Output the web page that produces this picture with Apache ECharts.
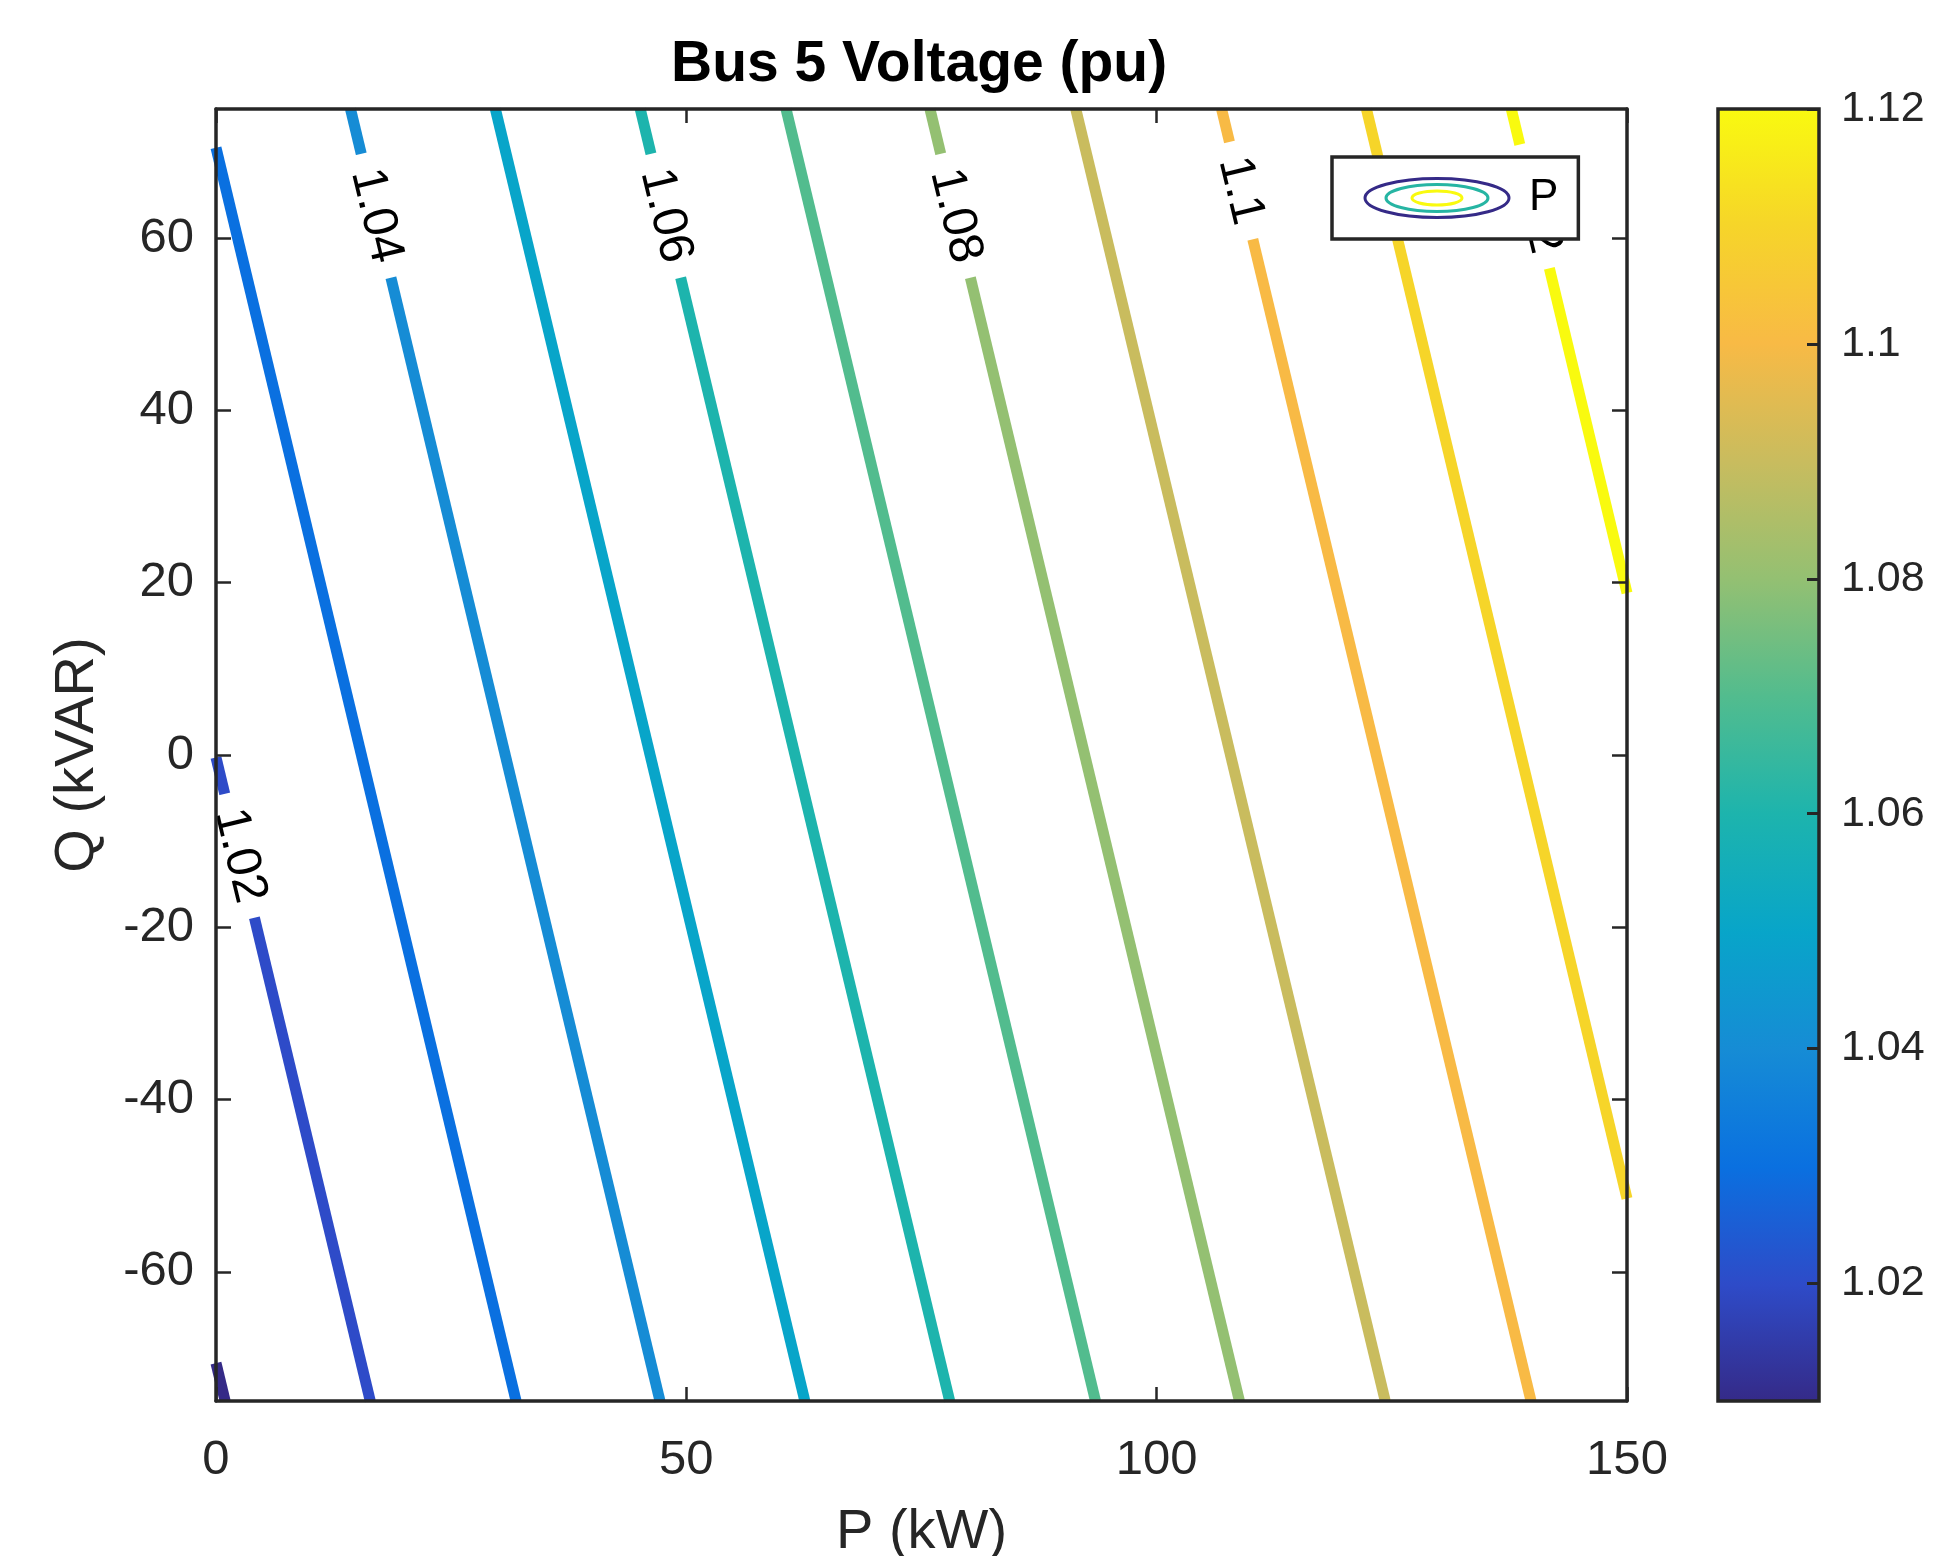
<!DOCTYPE html>
<html>
<head>
<meta charset="utf-8">
<script src="https://cdn.jsdelivr.net/npm/echarts@6/dist/echarts.min.js"></script>
<style>
  html, body { margin: 0; padding: 0; background: #ffffff; }
  #chart { width: 1934px; height: 1556px; }
</style>
</head>
<body>
<div id="chart"></div>
<script>
// Bus 5 voltage (pu) contour lines over the P-Q injection plane.
// Each contour is a straight segment; endpoints lie on the plot boundary.
const contourLevels = [1.01, 1.02, 1.03, 1.04, 1.05, 1.06, 1.07, 1.08, 1.09, 1.10, 1.11, 1.12];
const lineStartP = [0.97, 16.4, 31.9, 47.2, 62.6, 78.0, 93.5, 108.8, 124.3, 139.8, 150, 150];
const lineStartQ = [-75, -75, -75, -75, -75, -75, -75, -75, -75, -75, -51.5, 18.8];
const lineEndP   = [0, 0, 0, 14.3, 29.7, 45.1, 60.6, 75.9, 91.4, 106.9, 122.3, 137.7];
const lineEndQ   = [-70.6, -0.3, 70.5, 75, 75, 75, 75, 75, 75, 75, 75, 75];

// Inline contour labels (level, and the point on its line where it sits)
const labelLevels = [1.02, 1.04, 1.06, 1.08, 1.1, 1.12];
const labelP = [2.5, 17.0, 47.8, 78.6, 108.9, 140.2];
const labelQ = [-11.7, 62.6, 62.6, 62.6, 65.5, 63.7];

// Axis ticks
const xTicks = [0, 50, 100, 150];
const yTicks = [-60, -40, -20, 0, 20, 40, 60];
const colorbarTicks = [1.02, 1.04, 1.06, 1.08, 1.1, 1.12];
const colorRange = [1.01, 1.12];

// parula-like colormap, evenly spaced stops from low to high
const parulaStops = ['#352a87', '#2e4bc8', '#0a70e0', '#168cd5', '#08a5c9', '#1db4ad',
                     '#52bc8e', '#94c072', '#c9bc5e', '#f8ba45', '#f6d529', '#f9fa0f'];

function hexToRgb(h) {
  return [parseInt(h.slice(1, 3), 16), parseInt(h.slice(3, 5), 16), parseInt(h.slice(5, 7), 16)];
}
function colormap(v) {
  let t = (v - colorRange[0]) / (colorRange[1] - colorRange[0]);
  t = Math.max(0, Math.min(1, t));
  const pos = t * (parulaStops.length - 1);
  const i = Math.min(Math.floor(pos), parulaStops.length - 2);
  const f = pos - i;
  const a = hexToRgb(parulaStops[i]), b = hexToRgb(parulaStops[i + 1]);
  const c = a.map((x, k) => Math.round(x + (b[k] - x) * f));
  return 'rgb(' + c.join(',') + ')';
}

const FONT = '"Liberation Sans", Arial, Helvetica, sans-serif';
const AXIS_COLOR = '#262626';
const AXIS_W = 3.5;

const legendIcon = 'image://data:image/svg+xml;charset=utf-8,' + encodeURIComponent(
  "<svg xmlns='http://www.w3.org/2000/svg' width='150' height='44' viewBox='0 0 150 44'>" +
  "<ellipse cx='75' cy='22' rx='72' ry='19.5' fill='none' stroke='" + colormap(1.01) + "' stroke-width='3'/>" +
  "<ellipse cx='75' cy='22' rx='51' ry='13.5' fill='none' stroke='#26b5a3' stroke-width='3'/>" +
  "<ellipse cx='75' cy='22' rx='25' ry='7' fill='none' stroke='" + colormap(1.12) + "' stroke-width='3'/>" +
  "</svg>");

const contourSeries = contourLevels.map((lv, i) => ({
  type: 'line',
  name: 'P',
  xAxisIndex: 0,
  yAxisIndex: 0,
  data: [[lineStartP[i], lineStartQ[i]], [lineEndP[i], lineEndQ[i]]],
  symbol: 'none',
  showSymbol: false,
  clip: false,
  silent: true,
  z: 2,
  lineStyle: { color: colormap(lv), width: 11, cap: 'butt' }
}));

const labelSeries = {
  type: 'scatter',
  name: 'levels',
  xAxisIndex: 0,
  yAxisIndex: 0,
  data: labelLevels.map((lv, i) => [labelP[i], labelQ[i], lv]),
  symbolSize: 1,
  itemStyle: { color: 'rgba(0,0,0,0)', opacity: 1 },
  silent: true,
  z: 3,
  label: {
    show: true,
    position: 'inside',
    formatter: p => String(p.value[2]),
    rotate: -76.5,
    fontFamily: FONT,
    fontSize: 49,
    color: '#000000',
    opacity: 1,
    backgroundColor: '#ffffff',
    padding: [0, 16, 0, 16]
  }
};

const colorbarSeries = {
  type: 'custom',
  name: 'colorbar',
  xAxisIndex: 2,
  yAxisIndex: 2,
  silent: true,
  z: 2,
  data: [[0, colorRange[0], 1, colorRange[1]]],
  renderItem: (params, api) => {
    const p0 = api.coord([api.value(0), api.value(3)]);
    const p1 = api.coord([api.value(2), api.value(1)]);
    const stops = parulaStops.map((c, k) => ({ offset: k / (parulaStops.length - 1), color: c }));
    return {
      type: 'rect',
      shape: { x: p0[0], y: p0[1], width: p1[0] - p0[0], height: p1[1] - p0[1] },
      style: {
        fill: new echarts.graphic.LinearGradient(0, 1, 0, 0, stops),
        stroke: AXIS_COLOR,
        lineWidth: AXIS_W
      }
    };
  }
};

const lineStyle = { color: AXIS_COLOR, width: AXIS_W };
const tickLabel = { fontFamily: FONT, fontSize: 49, color: AXIS_COLOR };
const nameStyle = { fontFamily: FONT, fontSize: 56, color: AXIS_COLOR };

const option = {
  animation: false,
  backgroundColor: '#ffffff',
  title: {
    text: 'Bus 5 Voltage (pu)',
    left: 671,
    top: 37,
    padding: 0,
    textStyle: { fontFamily: FONT, fontSize: 57, fontWeight: 'bold', color: '#000000' }
  },
  legend: {
    data: [{ name: 'P', icon: legendIcon }],
    left: 1332,
    top: 157,
    orient: 'horizontal',
    padding: [19, 20, 19, 30],
    itemWidth: 150,
    itemHeight: 44,
    selectedMode: false,
    backgroundColor: '#ffffff',
    borderColor: AXIS_COLOR,
    borderWidth: AXIS_W,
    z: 6,
    textStyle: { fontFamily: FONT, fontSize: 44, color: '#000000', padding: [0, 0, 0, 12] }
  },
  grid: [
    { left: 216, top: 109, width: 1411, height: 1292, outerBoundsMode: 'none', containLabel: false },
    { left: 1718, top: 109, width: 101, height: 1292, outerBoundsMode: 'none', containLabel: false }
  ],
  xAxis: [
    {
      gridIndex: 0, type: 'value', min: 0, max: 150, position: 'bottom', z: 4,
      axisLine: { show: true, onZero: false, lineStyle },
      axisTick: { show: true, inside: true, length: 14, customValues: xTicks, lineStyle: { color: AXIS_COLOR, width: 2.5 } },
      axisLabel: Object.assign({ customValues: xTicks, margin: 35 }, tickLabel),
      splitLine: { show: false },
      name: 'P (kW)', nameLocation: 'middle', nameGap: 104,
      nameTextStyle: nameStyle
    },
    {
      gridIndex: 0, type: 'value', min: 0, max: 150, position: 'top', z: 4,
      axisLine: { show: true, onZero: false, lineStyle },
      axisTick: { show: true, inside: true, length: 14, customValues: xTicks, lineStyle: { color: AXIS_COLOR, width: 2.5 } },
      axisLabel: { show: false },
      splitLine: { show: false }
    },
    {
      gridIndex: 1, type: 'value', min: 0, max: 1, show: false,
      axisLine: { show: false, onZero: false }
    }
  ],
  yAxis: [
    {
      gridIndex: 0, type: 'value', min: -75, max: 75, position: 'left', z: 4,
      axisLine: { show: true, onZero: false, lineStyle },
      axisTick: { show: true, inside: true, length: 15, customValues: yTicks, lineStyle: { color: AXIS_COLOR, width: 2.5 } },
      axisLabel: Object.assign({ customValues: yTicks, margin: 22 }, tickLabel),
      splitLine: { show: false },
      name: 'Q (kVAR)', nameLocation: 'middle', nameGap: 110,
      nameTextStyle: nameStyle
    },
    {
      gridIndex: 0, type: 'value', min: -75, max: 75, position: 'right', z: 4,
      axisLine: { show: true, onZero: false, lineStyle },
      axisTick: { show: true, inside: true, length: 15, customValues: yTicks, lineStyle: { color: AXIS_COLOR, width: 2.5 } },
      axisLabel: { show: false },
      splitLine: { show: false }
    },
    {
      gridIndex: 1, type: 'value', min: colorRange[0], max: colorRange[1], position: 'right', z: 4,
      axisLine: { show: false, onZero: false },
      axisTick: { show: true, inside: true, length: 12, customValues: colorbarTicks, lineStyle: { color: AXIS_COLOR, width: 3 } },
      axisLabel: Object.assign({ customValues: colorbarTicks, margin: 22 }, tickLabel, { fontSize: 43 }),
      splitLine: { show: false }
    }
  ],
  series: contourSeries.concat([labelSeries, colorbarSeries])
};

const chart = echarts.init(document.getElementById('chart'), null, { renderer: 'canvas' });
chart.setOption(option);
</script>
</body>
</html>
